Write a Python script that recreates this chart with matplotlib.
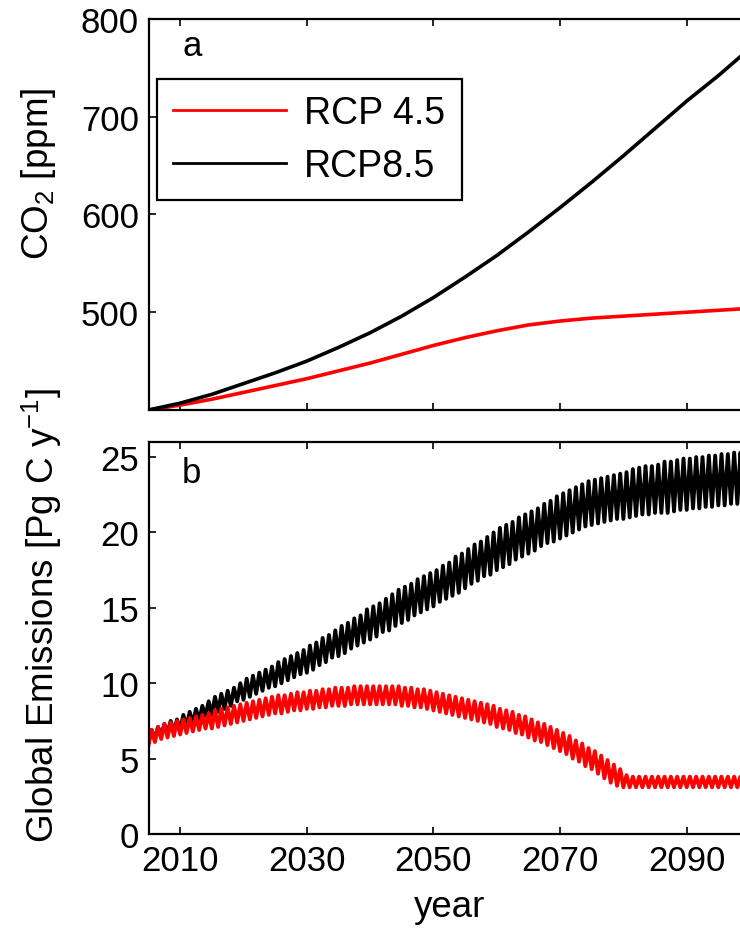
import numpy as np
import matplotlib.pyplot as plt

plt.rcParams['font.family'] = ['Liberation Sans', 'DejaVu Sans']
plt.rcParams['mathtext.fontset'] = 'custom'
plt.rcParams['mathtext.rm'] = 'Liberation Sans'
plt.rcParams['mathtext.default'] = 'regular'

# ===== CO2 concentration [ppm], every 5 years =====
co2_years = [2005, 2010, 2015, 2020, 2025, 2030, 2035, 2040, 2045, 2050,
             2055, 2060, 2065, 2070, 2075, 2080, 2085, 2090, 2095, 2100]
co2_rcp45 = [400, 405, 411, 418, 425, 432, 440, 448, 457, 466,
             474, 481, 487, 491, 494, 496, 498, 500, 502, 504]
co2_rcp85 = [400, 407, 416, 427, 438, 450, 464, 479, 496, 515,
             536, 558, 582, 607, 633, 660, 688, 716, 742, 770]

# ===== global emissions [Pg C / y], yearly seasonal low and high =====
em_years = list(range(2005, 2101))

em85_low = [6.1, 6.3, 6.5, 6.7, 6.8, 6.9, 7.1, 7.3, 7.5, 7.8,
            7.9, 8.1, 8.3, 8.5, 8.8, 8.9, 9.1, 9.3, 9.5, 9.7,
            9.8, 10.0, 10.2, 10.4, 10.6, 10.7, 10.9, 11.2, 11.4, 11.7,
            11.8, 12.0, 12.3, 12.5, 12.7, 12.9, 13.1, 13.4, 13.5, 13.8,
            14.0, 14.2, 14.5, 14.7, 14.9, 15.1, 15.4, 15.6, 15.8, 16.0,
            16.3, 16.6, 16.8, 17.1, 17.2, 17.5, 17.7, 17.9, 18.2, 18.4,
            18.6, 18.8, 19.1, 19.3, 19.4, 19.6, 19.8, 20.0, 20.2, 20.4,
            20.5, 20.6, 20.7, 20.8, 20.9, 20.9, 21.0, 21.1, 21.2, 21.2,
            21.3, 21.3, 21.3, 21.4, 21.5, 21.5, 21.6, 21.6, 21.7, 21.7,
            21.8, 21.8, 21.9, 21.9, 22.0, 22.0]
em85_high = [6.9, 7.1, 7.3, 7.5, 7.6, 7.9, 8.1, 8.3, 8.5, 8.8,
             9.1, 9.3, 9.5, 9.7, 10.0, 10.3, 10.5, 10.7, 10.9, 11.1,
             11.4, 11.6, 11.8, 12.0, 12.2, 12.5, 12.7, 13.0, 13.2, 13.5,
             13.8, 14.0, 14.3, 14.5, 14.9, 15.1, 15.3, 15.6, 15.9, 16.2,
             16.4, 16.6, 16.9, 17.1, 17.3, 17.5, 17.8, 18.0, 18.4, 18.6,
             18.9, 19.2, 19.4, 19.7, 20.0, 20.3, 20.5, 20.7, 21.0, 21.2,
             21.4, 21.6, 21.9, 22.1, 22.4, 22.6, 22.8, 23.0, 23.2, 23.4,
             23.5, 23.6, 23.7, 23.8, 23.9, 24.0, 24.2, 24.3, 24.4, 24.4,
             24.5, 24.7, 24.7, 24.8, 24.9, 24.9, 25.0, 25.0, 25.1, 25.1,
             25.2, 25.2, 25.3, 25.3, 25.4, 25.4]

em45_low = [5.9, 6.1, 6.3, 6.4, 6.5, 6.6, 6.7, 6.8, 6.9, 7.0,
            7.0, 7.1, 7.2, 7.3, 7.4, 7.5, 7.6, 7.7, 7.8, 7.9,
            8.0, 8.0, 8.1, 8.2, 8.2, 8.3, 8.3, 8.4, 8.4, 8.5,
            8.5, 8.5, 8.6, 8.6, 8.6, 8.6, 8.6, 8.6, 8.6, 8.6,
            8.5, 8.5, 8.4, 8.4, 8.3, 8.2, 8.1, 8.0, 7.9, 7.8,
            7.7, 7.6, 7.5, 7.4, 7.3, 7.1, 7.0, 6.9, 6.7, 6.6,
            6.4, 6.2, 6.1, 5.9, 5.7, 5.5, 5.3, 5.0, 4.8, 4.5,
            4.3, 4.0, 3.7, 3.4, 3.2, 3.1, 3.1, 3.1, 3.1, 3.1,
            3.1, 3.1, 3.1, 3.1, 3.1, 3.1, 3.1, 3.1, 3.1, 3.1,
            3.1, 3.1, 3.1, 3.1, 3.1, 3.1]
em45_high = [6.9, 7.1, 7.3, 7.4, 7.5, 7.6, 7.7, 7.8, 7.9, 8.0,
             8.2, 8.3, 8.4, 8.5, 8.6, 8.7, 8.8, 8.9, 9.0, 9.1,
             9.2, 9.2, 9.3, 9.4, 9.4, 9.5, 9.5, 9.6, 9.6, 9.7,
             9.7, 9.7, 9.8, 9.8, 9.8, 9.8, 9.8, 9.8, 9.8, 9.8,
             9.7, 9.7, 9.6, 9.6, 9.5, 9.4, 9.3, 9.2, 9.1, 9.0,
             8.9, 8.8, 8.7, 8.6, 8.5, 8.3, 8.2, 8.1, 7.9, 7.8,
             7.6, 7.4, 7.3, 7.1, 6.9, 6.7, 6.5, 6.2, 6.0, 5.7,
             5.5, 5.2, 4.9, 4.6, 4.3, 3.9, 3.8, 3.8, 3.8, 3.8,
             3.8, 3.8, 3.8, 3.8, 3.8, 3.8, 3.8, 3.8, 3.8, 3.8,
             3.8, 3.8, 3.8, 3.8, 3.8, 3.8]

XTICKS = [2010, 2030, 2050, 2070, 2090]
FS = 25      # tick labels, panel letters
FS_LAB = 26.5
FS_LEG = 27


def seasonal(years, low, high):
    # low at the start of each year, high half a year later
    t = np.column_stack([years, np.array(years) + 0.5]).ravel()
    v = np.column_stack([low, high]).ravel()
    return t, v


def style(ax):
    ax.tick_params(direction='in', length=5, width=1.2, top=True, right=False,
                   labelsize=FS, pad=7)
    for s in ax.spines.values():
        s.set_linewidth(1.6)
    ax.set_xlim(2005, 2100)
    ax.set_xticks(XTICKS)


fig = plt.figure(figsize=(7.4, 9.29), dpi=100)

# ===== a: CO2 =====
ax1 = fig.add_axes([0.2007, 0.5576, 0.8128, 0.4209])
ax1.plot(co2_years, co2_rcp45, color='#ff0000', lw=2.6, label='RCP 4.5')
ax1.plot(co2_years, co2_rcp85, color='k', lw=2.6, label='RCP8.5')
style(ax1)
ax1.set_ylim(400, 800)
ax1.set_yticks([500, 600, 700, 800])
ax1.tick_params(labelbottom=False)
ax1.text(0.072, 0.931, 'a', transform=ax1.transAxes, fontsize=FS,
         ha='center', va='center')
leg = ax1.legend(loc='upper left', bbox_to_anchor=(0.0141, 0.8465),
                 borderaxespad=0, fontsize=FS_LEG, frameon=True,
                 fancybox=False, framealpha=1, handlelength=3.0,
                 handletextpad=0.5, labelspacing=0.46, borderpad=0.43)
leg.get_frame().set_edgecolor('k')
leg.get_frame().set_linewidth(1.6)
for ln in leg.get_lines():
    ln.set_linewidth(2.0)

# ===== b: emissions =====
ax2 = fig.add_axes([0.2007, 0.1012, 0.8128, 0.4219])
t85, v85 = seasonal(em_years, em85_low, em85_high)
t45, v45 = seasonal(em_years, em45_low, em45_high)
ax2.plot(t85, v85, color='k', lw=2.8)
ax2.plot(t45, v45, color='#ff0000', lw=2.8)
style(ax2)
ax2.set_ylim(0, 26)
ax2.set_yticks([0, 5, 10, 15, 20, 25])
ax2.text(0.072, 0.9235, 'b', transform=ax2.transAxes, fontsize=FS,
         ha='center', va='center')

fig.text(39 / 740, 1 - 174 / 929, 'CO$_2$ [ppm]', rotation=90,
         fontsize=FS_LAB, ha='center', va='center')
fig.text(42 / 740, 1 - 616 / 929, 'Global Emissions [Pg C y$^{-1}$]',
         rotation=90, fontsize=FS_LAB, ha='center', va='center')
fig.text(450 / 740, 1 - 908 / 929, 'year', fontsize=FS_LAB, ha='center',
         va='center')

fig.savefig('out.png', dpi=100)
